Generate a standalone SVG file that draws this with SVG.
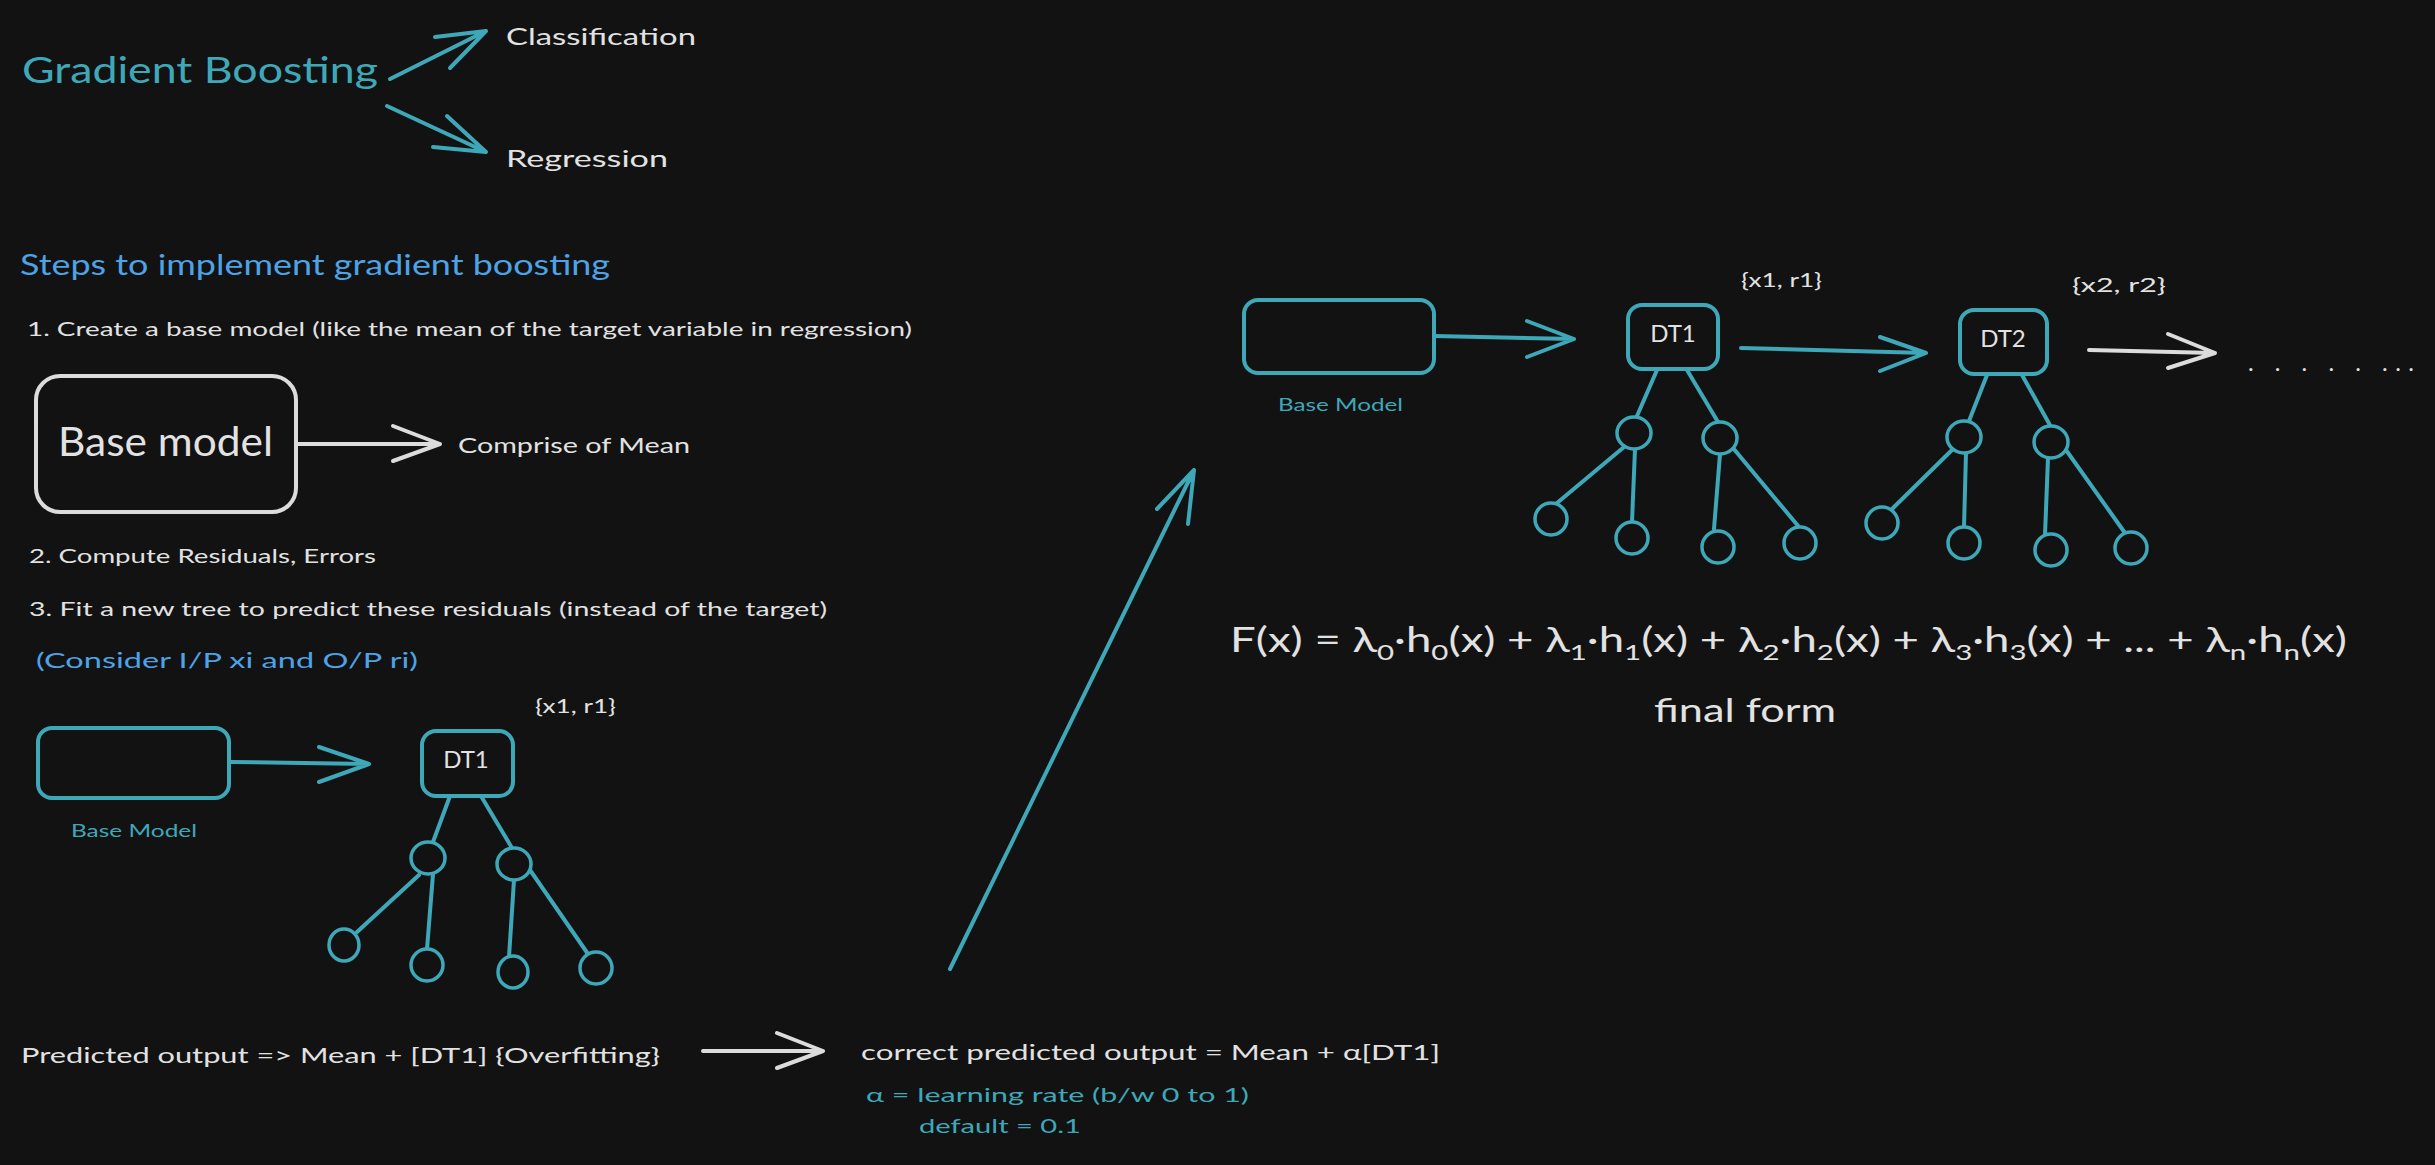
<svg xmlns="http://www.w3.org/2000/svg" width="2435" height="1165" viewBox="0 0 2435 1165">
<style>
.bg{fill:#121212}
text{font-family:"Lato","Liberation Sans",sans-serif}
.w{fill:#e2e2e2}
.t{fill:#3ea8b9}
.b{fill:#4da3e6}
.ts{fill:none;stroke:#3ea8b9;stroke-width:4;stroke-linecap:round;stroke-linejoin:round}
.ws{fill:none;stroke:#dcdcdc;stroke-width:4;stroke-linecap:round;stroke-linejoin:round}
.node{fill:#121212;stroke:#3ea8b9;stroke-width:4}
.leaf{fill:#121212;stroke:#3ea8b9;stroke-width:3.5}
</style>
<rect class="bg" x="0" y="0" width="2435" height="1165"/>

<g id="title">
<text class="t" x="22" y="83" font-size="36" textLength="356" lengthAdjust="spacingAndGlyphs">Gradient Boosting</text>
</g>
<g id="classification"><text class="w" x="506" y="45" font-size="24" textLength="190" lengthAdjust="spacingAndGlyphs">Classification</text></g>
<g id="regression"><text class="w" x="506" y="167" font-size="24" textLength="162" lengthAdjust="spacingAndGlyphs">Regression</text></g>

<g id="steps">
<text class="b" x="20" y="275" font-size="28" textLength="590" lengthAdjust="spacingAndGlyphs">Steps to implement gradient boosting</text>
<text class="w" x="27" y="336" font-size="20" textLength="885" lengthAdjust="spacingAndGlyphs">1. Create a base model (like the mean of the target variable in regression)</text>
<text class="w" x="29" y="563" font-size="20" textLength="347" lengthAdjust="spacingAndGlyphs">2. Compute Residuals, Errors</text>
<text class="w" x="29" y="616" font-size="20" textLength="798" lengthAdjust="spacingAndGlyphs">3. Fit a new tree to predict these residuals (instead of the target)</text>
<text class="b" x="36" y="668" font-size="22" textLength="382" lengthAdjust="spacingAndGlyphs">(Consider I/P xi and O/P ri)</text>
</g>

<g id="base-model-white">
<rect x="36" y="376" width="260" height="136" rx="24" fill="none" stroke="#dcdcdc" stroke-width="4"/>
<text class="w" x="58" y="456" font-size="40" textLength="215" lengthAdjust="spacingAndGlyphs">Base model</text>
</g>
<g id="comprise"><text class="w" x="458" y="453" font-size="22" textLength="232" lengthAdjust="spacingAndGlyphs">Comprise of Mean</text></g>

<g id="base-model-left">
<rect class="node" x="38" y="728" width="191" height="70" rx="14"/>
<text class="t" x="71" y="837" font-size="18" textLength="126" lengthAdjust="spacingAndGlyphs">Base Model</text>
</g>
<g id="dt1-left">
<rect class="node" x="422" y="731" width="91" height="65" rx="14"/>
<text class="w" x="466" y="768" font-size="24" text-anchor="middle">DT1</text>
<text class="w" x="535" y="713" font-size="20" textLength="81" lengthAdjust="spacingAndGlyphs">{x1, r1}</text>
<path class="ts" d="M450 796 L433 842 M481 796 L512 848 M419 875 L357 932 M433 874 L427 949 M514 880 L509 957 M530 870 L588 954"/>
<ellipse class="leaf" cx="428" cy="858" rx="17" ry="16"/>
<ellipse class="leaf" cx="514" cy="864" rx="17" ry="16"/>
<ellipse class="leaf" cx="344" cy="945" rx="15" ry="16"/>
<ellipse class="leaf" cx="427" cy="965" rx="16" ry="16"/>
<ellipse class="leaf" cx="513" cy="972" rx="15" ry="16"/>
<ellipse class="leaf" cx="596" cy="968" rx="16" ry="16"/>
</g>

<g id="predicted">
<text class="w" x="21" y="1063" font-size="22" textLength="639" lengthAdjust="spacingAndGlyphs">Predicted output =&gt; Mean + [DT1] {Overfitting}</text>
</g>
<g id="correct">
<text class="w" x="861" y="1060" font-size="22" textLength="579" lengthAdjust="spacingAndGlyphs">correct predicted output = Mean + α[DT1]</text>
<text class="t" x="866" y="1102" font-size="20" textLength="383" lengthAdjust="spacingAndGlyphs">α = learning rate (b/w 0 to 1)</text>
<text class="t" x="919" y="1133" font-size="20" textLength="162" lengthAdjust="spacingAndGlyphs">default = 0.1</text>
</g>

<g id="base-model-right">
<rect class="node" x="1244" y="300" width="190" height="73" rx="14"/>
<text class="t" x="1278" y="411" font-size="18" textLength="125" lengthAdjust="spacingAndGlyphs">Base Model</text>
</g>
<g id="dt1-right">
<rect class="node" x="1628" y="305" width="90" height="64" rx="14"/>
<text class="w" x="1673" y="342" font-size="24" text-anchor="middle">DT1</text>
<text class="w" x="1741" y="287" font-size="20" textLength="81" lengthAdjust="spacingAndGlyphs">{x1, r1}</text>
<path class="ts" d="M1657 370 L1637 416 M1687 370 L1718 422 M1624 447 L1557 503 M1635 449 L1632 522 M1720 454 L1714 529 M1733 448 L1799 527"/>
<ellipse class="leaf" cx="1634" cy="433" rx="17" ry="16"/>
<ellipse class="leaf" cx="1720" cy="438" rx="17" ry="16"/>
<ellipse class="leaf" cx="1551" cy="519" rx="16" ry="16"/>
<ellipse class="leaf" cx="1632" cy="538" rx="16" ry="16"/>
<ellipse class="leaf" cx="1718" cy="547" rx="16" ry="16"/>
<ellipse class="leaf" cx="1800" cy="543" rx="16" ry="16"/>
</g>
<g id="dt2-right">
<rect class="node" x="1960" y="310" width="87" height="64" rx="14"/>
<text class="w" x="2003" y="347" font-size="24" text-anchor="middle">DT2</text>
<text class="w" x="2072" y="292" font-size="20" textLength="94" lengthAdjust="spacingAndGlyphs">{x2, r2}</text>
<path class="ts" d="M1987 375 L1969 421 M2022 375 L2051 427 M1952 450 L1893 508 M1966 453 L1964 527 M2048 458 L2045 535 M2066 450 L2125 533"/>
<ellipse class="leaf" cx="1964" cy="437" rx="17" ry="16"/>
<ellipse class="leaf" cx="2051" cy="442" rx="17" ry="16"/>
<ellipse class="leaf" cx="1882" cy="523" rx="16" ry="16"/>
<ellipse class="leaf" cx="1964" cy="543" rx="16" ry="16"/>
<ellipse class="leaf" cx="2051" cy="550" rx="16" ry="16"/>
<ellipse class="leaf" cx="2131" cy="548" rx="16" ry="16"/>
</g>
<g id="dots"><text class="w" x="2248" y="371" font-size="24" textLength="166" lengthAdjust="spacing">. . . . . ...</text></g>

<g id="formula">
<text class="w" x="1230" y="652" font-size="34" textLength="1117" lengthAdjust="spacingAndGlyphs">F(x) = λ<tspan font-size="22" dy="8">0</tspan><tspan dy="-8">·h</tspan><tspan font-size="22" dy="8">0</tspan><tspan dy="-8">(x) + λ</tspan><tspan font-size="22" dy="8">1</tspan><tspan dy="-8">·h</tspan><tspan font-size="22" dy="8">1</tspan><tspan dy="-8">(x) + λ</tspan><tspan font-size="22" dy="8">2</tspan><tspan dy="-8">·h</tspan><tspan font-size="22" dy="8">2</tspan><tspan dy="-8">(x) + λ</tspan><tspan font-size="22" dy="8">3</tspan><tspan dy="-8">·h</tspan><tspan font-size="22" dy="8">3</tspan><tspan dy="-8">(x) + ... + λ</tspan><tspan font-size="22" dy="8">n</tspan><tspan dy="-8">·h</tspan><tspan font-size="22" dy="8">n</tspan><tspan dy="-8">(x)</tspan></text>
<text class="w" x="1654" y="722" font-size="32" textLength="182" lengthAdjust="spacingAndGlyphs">final form</text>
</g>

<g id="connectors">
<path class="ts" d="M390 79 L486 31 M435 37 L486 31 L450 68"/>
<path class="ts" d="M387 106 L486 152 M433 147 L486 152 L447 116"/>
<path class="ws" d="M297 444 L440 444 M393 426 L440 444 L393 461"/>
<path class="ts" d="M230 762 L369 764 M319 747 L369 764 L319 782"/>
<path class="ws" d="M703 1051 L823 1051 M777 1033 L823 1051 L777 1068" stroke-width="5"/>
<path class="ts" d="M950 969 L1194 470 M1157 509 L1194 470 L1188 524"/>
<path class="ts" d="M1434 336 L1574 339 M1527 321 L1574 339 L1527 357"/>
<path class="ts" d="M1741 348 L1926 353 M1880 337 L1926 353 L1880 371" stroke-width="6"/>
<path class="ws" d="M2089 350 L2215 353 M2168 334 L2215 353 L2168 368" stroke-width="6"/>
</g>
</svg>
